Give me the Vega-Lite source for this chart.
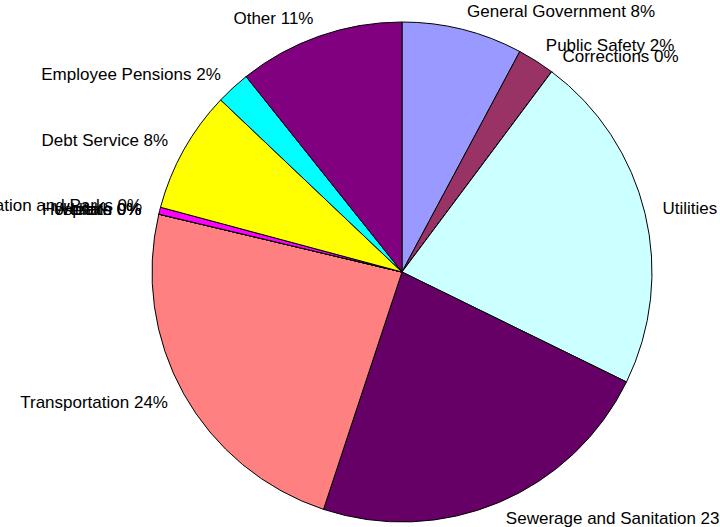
{
  "$schema": "https://vega.github.io/schema/vega-lite/v6.json",
  "width": 636,
  "height": 500,
  "autosize": {"type": "none"},
  "padding": {"left": 84, "top": 22, "right": 0, "bottom": 5},
  "background": "white",
  "view": {"stroke": null},
  "data": {
    "values": [
      {"idx": 1, "category": "General Government", "value": 7.8, "label": "General Government 8%"},
      {"idx": 2, "category": "Public Safety", "value": 2.4, "label": "Public Safety 2%"},
      {"idx": 3, "category": "Corrections", "value": 0, "label": "Corrections 0%"},
      {"idx": 4, "category": "Utilities", "value": 22.0, "label": "Utilities 22%"},
      {"idx": 5, "category": "Sewerage and Sanitation", "value": 22.8, "label": "Sewerage and Sanitation 23%"},
      {"idx": 6, "category": "Transportation", "value": 23.6, "label": "Transportation 24%"},
      {"idx": 7, "category": "Welfare", "value": 0, "label": "Welfare 0%"},
      {"idx": 8, "category": "Hospitals", "value": 0, "label": "Hospitals 0%"},
      {"idx": 9, "category": "Health", "value": 0, "label": "Health 0%"},
      {"idx": 10, "category": "Recreation and Parks", "value": 0.45, "label": "Recreation and Parks 0%"},
      {"idx": 11, "category": "Debt Service", "value": 7.9, "label": "Debt Service 8%"},
      {"idx": 12, "category": "Employee Pensions", "value": 2.2, "label": "Employee Pensions 2%"},
      {"idx": 13, "category": "Other", "value": 10.7, "label": "Other 11%"}
    ]
  },
  "encoding": {
    "theta": {"field": "value", "type": "quantitative", "stack": true},
    "order": {"field": "idx", "type": "quantitative"}
  },
  "layer": [
    {
      "mark": {"type": "arc", "outerRadius": 250, "stroke": "black", "strokeWidth": 1},
      "encoding": {
        "color": {
          "field": "category",
          "type": "nominal",
          "legend": null,
          "scale": {
            "domain": ["General Government", "Public Safety", "Corrections", "Utilities", "Sewerage and Sanitation", "Transportation", "Welfare", "Hospitals", "Health", "Recreation and Parks", "Debt Service", "Employee Pensions", "Other"],
            "range": ["#9999FF", "#993366", "#FFFFCC", "#CCFFFF", "#660066", "#FF8080", "#0066CC", "#CCCCFF", "#000080", "#FF00FF", "#FFFF00", "#00FFFF", "#800080"]
          }
        }
      }
    },
    {
      "mark": {"type": "text", "radius": 268, "align": "left", "baseline": "middle", "font": "Liberation Sans", "fontSize": 17, "fill": "black"},
      "encoding": {
        "text": {
          "condition": {"test": "indexof(['General Government','Public Safety','Corrections','Utilities','Sewerage and Sanitation'], datum.category) >= 0", "field": "label"},
          "value": ""
        }
      }
    },
    {
      "mark": {"type": "text", "radius": 268, "align": "right", "baseline": "middle", "font": "Liberation Sans", "fontSize": 17, "fill": "black"},
      "encoding": {
        "text": {
          "condition": {"test": "indexof(['General Government','Public Safety','Corrections','Utilities','Sewerage and Sanitation'], datum.category) < 0", "field": "label"},
          "value": ""
        }
      }
    }
  ]
}
